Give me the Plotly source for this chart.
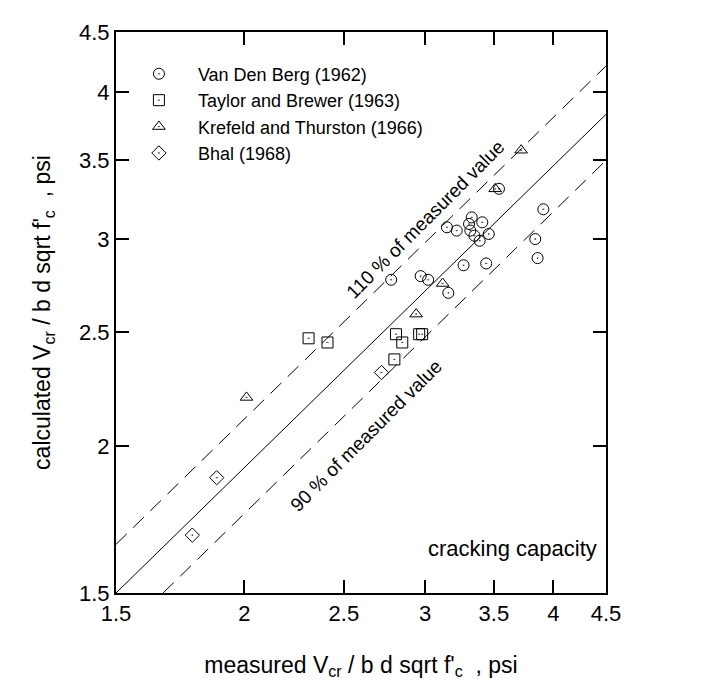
import math
import plotly.graph_objects as go

# measured vs calculated cracking shear, Vcr / (b d sqrt f'c)
vdb_measured = [2.78, 2.97, 3.02, 3.16, 3.15, 3.22, 3.33, 3.31, 3.41, 3.32, 3.35, 3.39, 3.46, 3.27, 3.44, 3.91, 3.84, 3.86, 3.54]
vdb_calc = [2.77, 2.79, 2.77, 2.70, 3.07, 3.05, 3.13, 3.09, 3.10, 3.05, 3.02, 2.99, 3.03, 2.85, 2.86, 3.18, 3.00, 2.89, 3.31]

tb_measured = [2.31, 2.41, 2.81, 2.85, 2.96, 2.98, 2.80]
tb_calc = [2.47, 2.45, 2.49, 2.45, 2.49, 2.49, 2.37]

kt_measured = [2.01, 2.94, 3.12, 3.51, 3.72]
kt_calc = [2.20, 2.59, 2.75, 3.31, 3.57]

bhal_measured = [1.78, 1.88, 2.72]
bhal_calc = [1.68, 1.88, 2.31]

tick_vals = [1.5, 2, 2.5, 3, 3.5, 4, 4.5]
tick_text = ["1.5", "2", "2.5", "3", "3.5", "4", "4.5"]

# guide lines as drawn in the chart (end points at the frame)
equal_x = [1.5, 4.5]
equal_y = [1.5, 3.83]
upper_x = [1.5, 4.5]
upper_y = [1.65, 4.21]
lower_x = [1.667, 4.5]
lower_y = [1.5, 3.50]

FONT = "Liberation Sans, Arial, sans-serif"

fig = go.Figure()

for xs, ys, dash in [(equal_x, equal_y, "solid"), (upper_x, upper_y, "15px,9px"), (lower_x, lower_y, "15px,9px")]:
    fig.add_trace(go.Scatter(
        x=xs, y=ys, mode="lines", line=dict(color="black", width=1, dash=dash),
        showlegend=False, hoverinfo="skip"))

series = [
    ("Van Den Berg (1962)", vdb_measured, vdb_calc, "circle-open-dot"),
    ("Taylor and Brewer (1963)", tb_measured, tb_calc, "square-open-dot"),
    ("Krefeld and Thurston (1966)", kt_measured, kt_calc, "triangle-up-open-dot"),
    ("Bhal (1968)", bhal_measured, bhal_calc, "diamond-open-dot"),
]
for name, xs, ys, sym in series:
    fig.add_trace(go.Scatter(
        x=xs, y=ys, mode="markers", name=name,
        marker=dict(symbol=sym, size=11, color="black", line=dict(color="black", width=1))))

axis_common = dict(
    type="log", tickvals=tick_vals, ticktext=tick_text,
    ticks="inside", ticklen=13, tickwidth=1.5, tickcolor="black",
    showline=True, linecolor="black", linewidth=2, mirror="ticks",
    showgrid=False, zeroline=False,
    range=[math.log10(1.5), math.log10(4.5)],
    tickfont=dict(family=FONT, size=22, color="black"),
)

fig.update_xaxes(**axis_common,
                 title=dict(text="measured V<sub>cr</sub> / b d sqrt f'<sub>c</sub>  , psi",
                            font=dict(family=FONT, size=23, color="black"), standoff=31))
fig.update_yaxes(**axis_common,
                 title=dict(text="calculated V<sub>cr</sub> / b d sqrt f'<sub>c</sub>  , psi",
                            font=dict(family=FONT, size=23, color="black"), standoff=22))

fig.add_annotation(x=math.log10(3.00), y=math.log10(3.12), text="110 % of measured value",
                   showarrow=False, textangle=-45,
                   font=dict(family=FONT, size=19, color="black"))
fig.add_annotation(x=math.log10(2.63), y=math.log10(2.04), text="90 % of measured value",
                   showarrow=False, textangle=-45,
                   font=dict(family=FONT, size=19, color="black"))
fig.add_annotation(x=0.985, y=0.054, xref="paper", yref="paper", xanchor="right",
                   text="cracking capacity", showarrow=False,
                   font=dict(family=FONT, size=22, color="black"))

fig.update_layout(
    width=715, height=693,
    margin=dict(l=108, r=117, t=14, b=108),
    plot_bgcolor="white", paper_bgcolor="white",
    font=dict(family=FONT, color="black"),
    legend=dict(x=0.008, y=0.958, xanchor="left", yanchor="top",
                bgcolor="rgba(0,0,0,0)", font=dict(family=FONT, size=18, color="black"),
                itemwidth=68, tracegroupgap=4),
)

fig.write_html("out.html")
